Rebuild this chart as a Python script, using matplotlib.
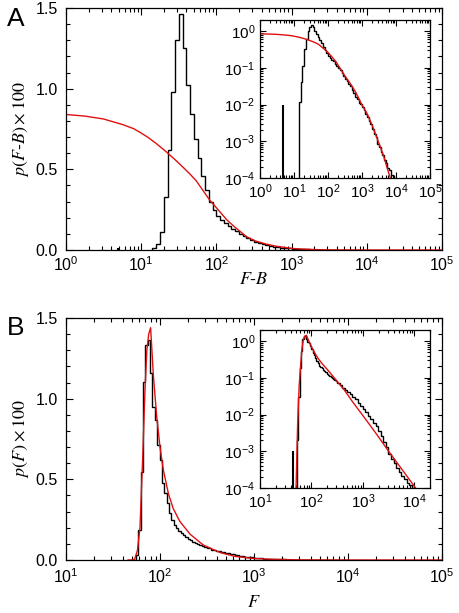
import numpy as np
import matplotlib.pyplot as plt
from matplotlib.ticker import LogLocator, MultipleLocator, NullFormatter, FormatStrFormatter

plt.rcParams['font.family'] = ['Liberation Sans', 'DejaVu Sans']

# ---- panel A: distribution of F-B (log-binned histogram, black) ----
hist_a_log_edges = np.round(np.arange(1.15, 3.951, 0.05), 3)
hist_a_vals = [0.012, 0.04, 0.11, 0.33, 0.62, 0.98, 1.30, 1.46, 1.25, 1.02,
               0.84, 0.69, 0.57, 0.46, 0.37, 0.30, 0.25, 0.21, 0.185, 0.165,
               0.15, 0.13, 0.115, 0.098, 0.087, 0.072, 0.061, 0.050, 0.043, 0.036,
               0.031, 0.025, 0.021, 0.016, 0.0138, 0.0112, 0.0101, 0.0084, 0.0071, 0.0056,
               0.0047, 0.0035, 0.0029, 0.0021, 0.0016, 0.0013, 0.00086, 0.00070, 0.00050, 0.00042,
               0.00031, 0.00026, 0.00019, 0.00017, 0.00012, 0.00011]
spike_a_x, spike_a_y = 4.9, 0.01

# fitted curve (red), panel A
fit_a_logx = [0.0, 0.25, 0.5, 0.75, 0.9, 1.0, 1.1, 1.2, 1.33, 1.45, 1.55, 1.65,
              1.73, 1.91, 2.0, 2.14, 2.25, 2.4, 2.52, 2.65, 2.8, 3.0, 3.14, 3.3,
              3.43, 3.55, 3.65, 3.73, 3.82, 3.9, 4.0, 5.0]
fit_a_vals = [0.840, 0.830, 0.812, 0.778, 0.752, 0.725, 0.695, 0.660, 0.61, 0.56, 0.516, 0.47,
              0.43, 0.31, 0.262, 0.186, 0.14, 0.083, 0.056, 0.038, 0.023, 0.0098, 0.0059, 0.0027,
              0.0013, 0.00066, 0.00036, 0.0002, 0.00011, 0.00005, 0.00002, 1e-9]

# ---- panel B: distribution of F ----
hist_b_log_edges = np.round(np.concatenate([np.arange(1.72, 2.496, 0.025),
                                            np.arange(2.545, 3.996, 0.05)]), 3)
hist_b_vals = [0.002, 0.03, 0.186, 0.547, 1.105, 1.333, 1.364, 1.157, 0.95, 0.868,
               0.713, 0.62, 0.475, 0.413, 0.351, 0.29, 0.248, 0.215, 0.200, 0.182,
               0.166, 0.152, 0.140, 0.130, 0.121, 0.113, 0.106, 0.100, 0.094, 0.088,
               0.082,
               0.072, 0.062, 0.054, 0.048, 0.041, 0.036, 0.030, 0.026, 0.021, 0.0175,
               0.0140, 0.0116, 0.0091, 0.0076, 0.0060, 0.0049, 0.0035, 0.0026, 0.0018, 0.0013,
               0.00085, 0.00063, 0.00049, 0.00036, 0.00028, 0.00021, 0.00018, 0.00014, 0.00012, 0.0001]
spike_b_x, spike_b_y = 44.0, 0.001

fit_b_logx = [1.66, 1.70, 1.73, 1.76, 1.787, 1.815, 1.84, 1.86, 1.88, 1.90, 1.93, 1.965,
              2.0, 2.035, 2.09, 2.14, 2.21, 2.32, 2.46, 2.64, 2.8, 3.0, 3.25, 3.5,
              3.75, 4.0, 4.3, 5.0]
fit_b_vals = [1e-6, 1e-4, 0.005, 0.06, 0.20, 0.62, 1.05, 1.30, 1.40, 1.44, 1.14, 0.89,
              0.70, 0.56, 0.41, 0.32, 0.24, 0.16, 0.093, 0.046, 0.022, 0.0093, 0.0031, 0.00099,
              0.00033, 0.00011, 0.00003, 1e-7]

RED = '#e01010'
W, H = 460, 613


def box(l, t, r, b):
    return [l / W, 1 - b / H, (r - l) / W, (b - t) / H]


def style(ax, size):
    ax.tick_params(which='both', direction='in', top=True, right=True,
                   labelsize=size, width=0.8)
    ax.tick_params(which='major', length=5)
    ax.tick_params(which='minor', length=2.8)
    for s in ax.spines.values():
        s.set_linewidth(0.9)


def draw_main(ax, edges, vals, fx, fy, sx, sy, xlim, xlabel, ylabel, xpad, lpad):
    ax.stairs(vals, 10 ** edges, baseline=0, color='black', lw=1.0)
    ax.vlines(sx, 0, sy, color='black', lw=1.5)
    ax.plot(10 ** np.array(fx), fy, color=RED, lw=1.0)
    ax.set_xscale('log')
    ax.set_xlim(*xlim)
    ax.set_ylim(0, 1.5)
    ax.xaxis.set_major_locator(LogLocator(base=10, numticks=10))
    ax.xaxis.set_minor_locator(LogLocator(base=10, subs=np.arange(2, 10), numticks=20))
    ax.xaxis.set_minor_formatter(NullFormatter())
    ax.yaxis.set_major_locator(MultipleLocator(0.5))
    ax.yaxis.set_minor_locator(MultipleLocator(0.1))
    ax.yaxis.set_major_formatter(FormatStrFormatter('%.1f'))
    style(ax, 11.5)
    ax.tick_params(axis='x', pad=xpad)
    ax.tick_params(axis='y', pad=6)
    ax.set_xlabel(xlabel, fontsize=13, fontfamily='STIXGeneral', math_fontfamily='stix', labelpad=lpad)
    ax.set_ylabel(ylabel, fontsize=13, fontfamily='STIXGeneral', math_fontfamily='stix', labelpad=3)


def draw_inset(ax, edges, vals, fx, fy, sx, sy, xlim):
    ax.stairs(vals, 10 ** edges, baseline=1e-7, color='black', lw=1.0)
    ax.vlines(sx, 1e-7, sy, color='black', lw=1.5)
    ax.plot(10 ** np.array(fx), fy, color=RED, lw=1.0)
    ax.set_xscale('log')
    ax.set_yscale('log')
    ax.set_xlim(*xlim)
    ax.set_ylim(1e-4, 2)
    for axis in (ax.xaxis, ax.yaxis):
        axis.set_major_locator(LogLocator(base=10, numticks=10))
        axis.set_minor_locator(LogLocator(base=10, subs=np.arange(2, 10), numticks=20))
        axis.set_minor_formatter(NullFormatter())
    style(ax, 11)
    ax.tick_params(which='major', length=4)
    ax.tick_params(which='minor', length=2.2)


fig = plt.figure(figsize=(4.6, 6.13), dpi=100)

ax_a = fig.add_axes(box(66, 8, 442, 250))
draw_main(ax_a, hist_a_log_edges, hist_a_vals, fit_a_logx, fit_a_vals,
          spike_a_x, spike_a_y, (1, 1e5), r'$F$-$B$', r'$p(F$-$B)\times100$', 4, -1.5)
ins_a = fig.add_axes(box(260, 20, 430, 178))
draw_inset(ins_a, hist_a_log_edges, hist_a_vals, fit_a_logx, fit_a_vals,
           spike_a_x, spike_a_y, (1, 1e5))

ax_b = fig.add_axes(box(66, 318, 442, 560))
draw_main(ax_b, hist_b_log_edges, hist_b_vals, fit_b_logx, fit_b_vals,
          spike_b_x, spike_b_y, (10, 1e5), r'$F$', r'$p(F)\times100$', 5, 7)
ins_b = fig.add_axes(box(260, 330, 430, 488))
draw_inset(ins_b, hist_b_log_edges, hist_b_vals, fit_b_logx, fit_b_vals,
           spike_b_x, spike_b_y, (10, 2e4))

fig.text(7 / W, 1 - 19 / H, 'A', fontsize=19, va='center', ha='left')
fig.text(7 / W, 1 - 328 / H, 'B', fontsize=19, va='center', ha='left')

fig.savefig('out.png', dpi=100)
